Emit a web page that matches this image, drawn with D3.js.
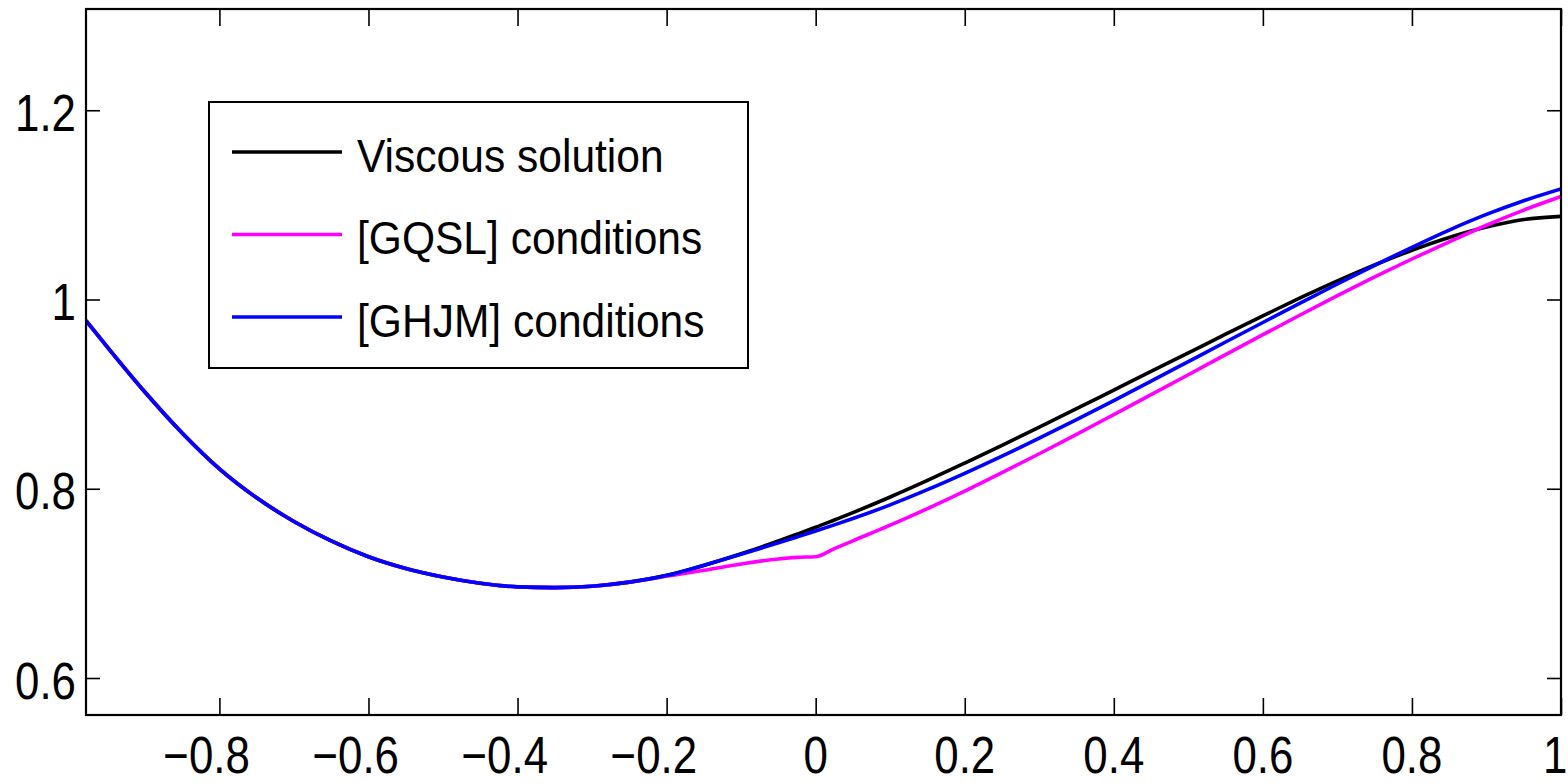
<!DOCTYPE html>
<html>
<head>
<meta charset="utf-8">
<script src="https://cdn.jsdelivr.net/npm/d3@7"></script>
<style>
html,body{margin:0;padding:0;background:#fff;overflow:hidden}
svg{display:block}
</style>
</head>
<body>
<svg id="chart" width="1568" height="784"></svg>
<script>
// ---- data ----
const xValues = [-0.979, -0.95, -0.9, -0.85, -0.8, -0.75, -0.7, -0.65, -0.6, -0.55, -0.5, -0.45, -0.4, -0.35, -0.3, -0.25, -0.2, -0.15, -0.1, -0.05, -0.025, 0, 0.025, 0.05, 0.1, 0.15, 0.2, 0.25, 0.3, 0.35, 0.4, 0.45, 0.5, 0.55, 0.6, 0.65, 0.7, 0.75, 0.8, 0.85, 0.9, 0.95, 1.0];
const viscous = [0.9776, 0.9494, 0.9022, 0.8589, 0.8210, 0.7904, 0.7654, 0.7448, 0.7281, 0.7157, 0.7067, 0.7001, 0.6963, 0.6955, 0.6970, 0.7013, 0.7085, 0.7190, 0.7313, 0.7448, 0.7520, 0.7593, 0.7670, 0.7748, 0.7913, 0.8088, 0.8271, 0.8458, 0.8651, 0.8846, 0.9043, 0.9240, 0.9436, 0.9633, 0.9828, 1.0016, 1.0196, 1.0365, 1.0520, 1.0655, 1.0765, 1.0845, 1.0878];
const gqsl = [0.9776, 0.9494, 0.9022, 0.8589, 0.8210, 0.7904, 0.7654, 0.7448, 0.7281, 0.7157, 0.7067, 0.7001, 0.6963, 0.6955, 0.6970, 0.7013, 0.7075, 0.7138, 0.7205, 0.7258, 0.7275, 0.7282, 0.7367, 0.7450, 0.7615, 0.7790, 0.7975, 0.8170, 0.8370, 0.8575, 0.8784, 0.8994, 0.9205, 0.9417, 0.9628, 0.9836, 1.0040, 1.0238, 1.0428, 1.0610, 1.0785, 1.0945, 1.1088];
const ghjm = [0.9776, 0.9494, 0.9022, 0.8589, 0.8210, 0.7904, 0.7654, 0.7448, 0.7281, 0.7157, 0.7067, 0.7001, 0.6963, 0.6955, 0.6970, 0.7013, 0.7083, 0.7192, 0.7307, 0.7428, 0.7490, 0.7553, 0.7618, 0.7685, 0.7830, 0.7990, 0.8162, 0.8344, 0.8535, 0.8731, 0.8932, 0.9137, 0.9344, 0.9551, 0.9757, 0.9962, 1.0164, 1.0361, 1.0552, 1.0734, 1.0899, 1.1044, 1.1169];
const seriesNames = ["Viscous solution", "[GQSL] conditions", "[GHJM] conditions"];
const seriesColors = ["#000000", "#ff00ff", "#0000ff"];
const xTicks = [-0.8, -0.6, -0.4, -0.2, 0, 0.2, 0.4, 0.6, 0.8, 1];
const yTicks = [0.6, 0.8, 1, 1.2];
const xTickLabels = ["\u22120.8", "\u22120.6", "\u22120.4", "\u22120.2", "0", "0.2", "0.4", "0.6", "0.8", "1"];
const yTickLabels = ["0.6", "0.8", "1", "1.2"];

// ---- layout ----
const W = 1568;
const box = {left: 86, right: 1561, top: 9, bottom: 715};
const FONT = "'Liberation Sans', Arial, Helvetica, sans-serif";
const tickFont = 51, tickSX = 0.86;
const legFont = 46, legSX = 0.925;

const svg = d3.select("#chart");
const x = d3.scaleLinear().domain([-0.979, 1]).range([box.left, box.right]);
const y = d3.scaleLinear().domain([0.5609, 1.307]).range([box.bottom, box.top]);

svg.append("defs").append("clipPath").attr("id", "clip")
  .append("rect").attr("x", box.left).attr("y", box.top)
  .attr("width", box.right - box.left).attr("height", box.bottom - box.top);

// curves
const series = [viscous, gqsl, ghjm];
const line = d3.line().x(d => x(d[0])).y(d => y(d[1])).curve(d3.curveMonotoneX);
const gLines = svg.append("g").attr("clip-path", "url(#clip)");
series.forEach((s, i) => {
  gLines.append("path")
    .datum(xValues.map((xv, k) => [xv, s[k]]))
    .attr("d", line)
    .attr("fill", "none")
    .attr("stroke", seriesColors[i])
    .attr("stroke-width", 3.6)
    .attr("stroke-linejoin", "round");
});

// ticks (inward) on all four sides
function ticks(axis, tr) {
  const g = svg.append("g").attr("transform", tr).call(axis);
  g.select(".domain").remove();
  g.selectAll(".tick text").remove();
  g.selectAll(".tick line").attr("stroke", "#000").attr("stroke-width", 1.6);
}
ticks(d3.axisBottom(x).tickValues(xTicks).tickSize(-17), `translate(0,${box.bottom})`);
ticks(d3.axisTop(x).tickValues(xTicks).tickSize(-17), `translate(0,${box.top})`);
ticks(d3.axisLeft(y).tickValues(yTicks).tickSize(-14), `translate(${box.left},0)`);
ticks(d3.axisRight(y).tickValues(yTicks).tickSize(-14), `translate(${box.right},0)`);

// frame
svg.append("rect").attr("x", box.left).attr("y", box.top)
  .attr("width", box.right - box.left).attr("height", box.bottom - box.top)
  .attr("fill", "none").attr("stroke", "#000").attr("stroke-width", 2.2);

// x tick labels: number part centred on the tick, minus hangs to the left
xTicks.forEach((v, i) => {
  const g = svg.append("g").attr("transform", `translate(${x(v)},773) scale(${tickSX},1)`);
  const t = g.append("text").attr("font-family", FONT).attr("font-size", tickFont).attr("fill", "#000");
  const lab = xTickLabels[i];
  if (lab.startsWith("\u2212")) {
    t.attr("text-anchor", "start");
    t.append("tspan").text("\u2212");
    t.append("tspan").text(lab.slice(1));
    const node = t.node();
    const mW = node.getSubStringLength(0, 1);
    const nW = node.getSubStringLength(1, lab.length - 1);
    t.attr("x", -(mW + nW / 2));
  } else {
    t.attr("text-anchor", "middle").text(lab);
    // keep the last label inside the page
    const w = t.node().getComputedTextLength() * tickSX;
    const over = x(v) + w / 2 - (W - 0.5);
    if (over > 0) g.attr("transform", `translate(${x(v) - over},773) scale(${tickSX},1)`);
  }
});

// y tick labels
yTicks.forEach((v, i) => {
  svg.append("g").attr("transform", `translate(76,${y(v) + 20.5}) scale(${tickSX},1)`)
    .append("text").attr("text-anchor", "end")
    .attr("font-family", FONT).attr("font-size", tickFont).attr("fill", "#000")
    .text(yTickLabels[i]);
});

// legend
const leg = {x: 209, y: 102, w: 539, h: 266};
svg.append("rect").attr("x", leg.x).attr("y", leg.y).attr("width", leg.w).attr("height", leg.h)
  .attr("fill", "#fff").attr("stroke", "#000").attr("stroke-width", 2);
const rowY = [152, 234.5, 317];
seriesNames.forEach((name, i) => {
  svg.append("line").attr("x1", 232).attr("x2", 342).attr("y1", rowY[i]).attr("y2", rowY[i])
    .attr("stroke", seriesColors[i]).attr("stroke-width", 3.6);
  svg.append("g").attr("transform", `translate(357,${rowY[i] + 19.5}) scale(${legSX},1)`)
    .append("text").attr("font-family", FONT).attr("font-size", legFont).attr("fill", "#000")
    .text(name);
});
</script>
</body>
</html>
